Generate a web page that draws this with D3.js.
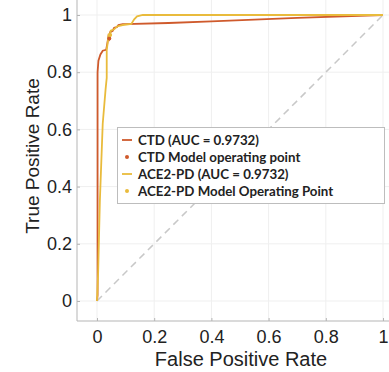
<!DOCTYPE html>
<html><head><meta charset="utf-8">
<script src="https://cdn.jsdelivr.net/npm/d3@7"></script>
<style>body{margin:0;background:#fff}svg{display:block}</style>
</head><body><svg id="c" width="389" height="372"></svg>
<script>
const ticks = [0, 0.2, 0.4, 0.6, 0.8, 1];
const ctdFPR = [0, 0.002, 0.002, 0.005, 0.012, 0.02, 0.032, 0.036, 0.04, 0.043, 0.046, 0.055, 0.06, 0.07, 0.075, 0.09, 0.1, 0.25, 0.4, 0.7, 1.0];
const ctdTPR = [0, 0.02, 0.8, 0.84, 0.862, 0.875, 0.878, 0.9, 0.925, 0.918, 0.94, 0.945, 0.955, 0.958, 0.965, 0.968, 0.968, 0.972, 0.978, 0.99, 1.0];
const aceFPR = [0, 0.004, 0.01, 0.02, 0.03, 0.034, 0.034, 0.037, 0.041, 0.045, 0.048, 0.06, 0.07, 0.09, 0.12, 0.13, 0.14, 0.16, 1.0];
const aceTPR = [0, 0.1, 0.35, 0.62, 0.74, 0.78, 0.878, 0.9, 0.935, 0.925, 0.945, 0.95, 0.96, 0.965, 0.969, 0.985, 0.995, 1.0, 1.0];
const opFPR = [0.043, 0.046];
const opTPR = [0.918, 0.93];
const names = ["CTD (AUC = 0.9732)", "CTD Model operating point", "ACE2-PD (AUC = 0.9732)", "ACE2-PD Model Operating Point"];
const colors = ["#cf5a2c", "#e9bb3c"];

const svg = d3.select("#c");
const x = d3.scaleLinear().domain([0, 1]).range([97, 383]);
const y = d3.scaleLinear().domain([0, 1]).range([301, 15]);
const pLeft = 77, pBottom = 321, pRight = 389, pTop = 0;

// grid
svg.append("g").selectAll("line").data(ticks).join("line")
  .attr("x1", d => x(d)).attr("x2", d => x(d)).attr("y1", pTop).attr("y2", pBottom)
  .attr("stroke", "#efefef").attr("stroke-width", 1);
svg.append("g").selectAll("line").data(ticks).join("line")
  .attr("y1", d => y(d)).attr("y2", d => y(d)).attr("x1", pLeft).attr("x2", pRight)
  .attr("stroke", "#efefef").attr("stroke-width", 1);

// axes
const fmt = d3.format("~g");
const xa = svg.append("g").attr("transform", `translate(0,${pBottom})`)
  .call(d3.axisBottom(x).tickValues(ticks).tickFormat(fmt).tickSize(-3).tickPadding(9));
xa.select(".domain").attr("d", `M${pLeft},0H${pRight}`);
const ya = svg.append("g").attr("transform", `translate(${pLeft},0)`)
  .call(d3.axisLeft(y).tickValues(ticks).tickFormat(fmt).tickSize(-3).tickPadding(5));
ya.select(".domain").attr("d", `M0,${pTop}V${pBottom}`);
[xa, ya].forEach(a => {
  a.selectAll(".domain").attr("stroke", "#b5b5b5");
  a.selectAll(".tick line").attr("stroke", "#b5b5b5");
  a.selectAll("text").attr("font-family", "Liberation Sans, Arial, sans-serif")
    .attr("font-size", 18).attr("fill", "#222");
});

// diagonal
svg.append("line").attr("x1", x(0)).attr("y1", y(0)).attr("x2", x(1)).attr("y2", y(1))
  .attr("stroke", "#c8c8c8").attr("stroke-width", 1.5).attr("stroke-dasharray", "7,5");

const line = d3.line().x(d => x(d[0])).y(d => y(d[1]));
svg.append("path").datum(ctdFPR.map((f, i) => [f, ctdTPR[i]])).attr("d", line)
  .attr("fill", "none").attr("stroke", colors[0]).attr("stroke-width", 1.8);
svg.append("path").datum(aceFPR.map((f, i) => [f, aceTPR[i]])).attr("d", line)
  .attr("fill", "none").attr("stroke", colors[1]).attr("stroke-width", 1.8);
svg.append("g").selectAll("circle").data(opFPR).join("circle")
  .attr("cx", (d) => x(d)).attr("cy", (d, i) => y(opTPR[i])).attr("r", 2)
  .attr("fill", (d, i) => colors[i]);

// axis titles
svg.append("text").attr("x", 241).attr("y", 366).attr("text-anchor", "middle")
  .attr("font-family", "Liberation Sans, Arial, sans-serif").attr("font-size", 20).attr("fill", "#222")
  .text("False Positive Rate");
svg.append("text").attr("transform", "translate(39,156) rotate(-90)").attr("text-anchor", "middle")
  .attr("font-family", "Liberation Sans, Arial, sans-serif").attr("font-size", 19).attr("fill", "#222")
  .text("True Positive Rate");

// legend
const lg = svg.append("g");
lg.append("rect").attr("x", 117.5).attr("y", 127.5).attr("width", 267).attr("height", 76)
  .attr("fill", "#fff").attr("stroke", "#bdbdbd");
const rowsY = [140, 157, 174, 191];
names.forEach((n, i) => {
  const c = colors[Math.floor(i / 2)];
  if (i % 2 === 0) {
    lg.append("line").attr("x1", 122).attr("x2", 132).attr("y1", rowsY[i]).attr("y2", rowsY[i])
      .attr("stroke", c).attr("stroke-width", 1.8);
  } else {
    lg.append("circle").attr("cx", 127).attr("cy", rowsY[i]).attr("r", 2).attr("fill", c);
  }
  lg.append("text").attr("x", 138).attr("y", rowsY[i]).attr("dy", "0.36em")
    .attr("font-family", "Lato, sans-serif").attr("font-weight", 700).attr("font-size", 13.3)
    .attr("fill", "#222").text(n);
});
</script></body></html>
